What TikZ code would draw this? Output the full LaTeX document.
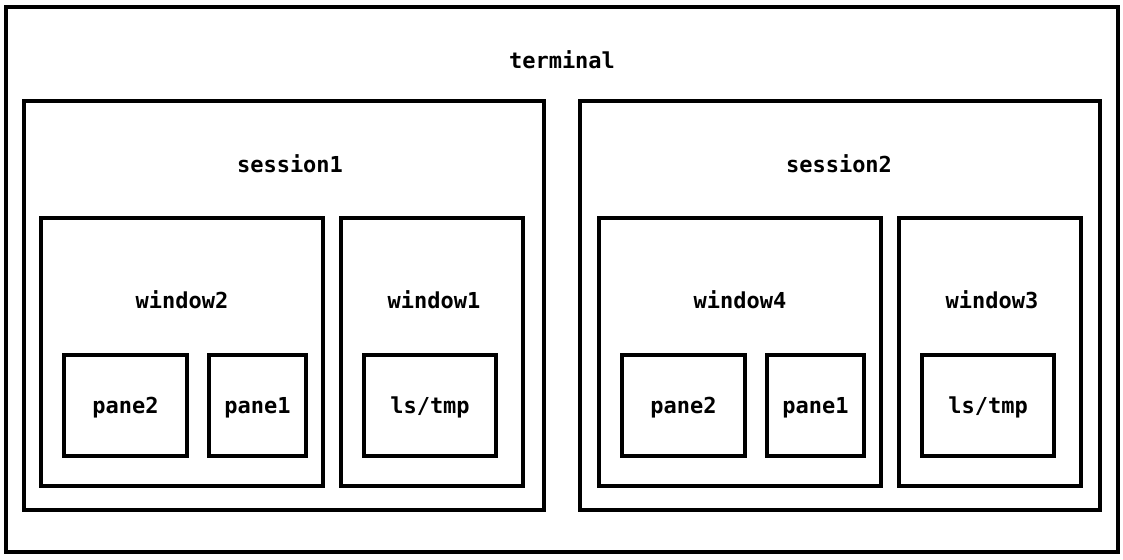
\documentclass[tikz,border=0pt]{standalone}
\usepackage{fontspec}
\setmonofont{DejaVu Sans Mono}
\usepackage{tikz}

\begin{document}
\begin{tikzpicture}
        [x=0.5pt,y=-0.5pt,
         box/.style={rectangle,draw=black,line width=2pt,inner sep=0pt},
         txt/.style={font=\ttfamily\bfseries\fontsize{11}{13}\selectfont},
         panebox/.style={box,txt,text depth=0pt,minimum height=50.5pt}]
        \useasboundingbox (0,0) rectangle (1123,559);

        % outer frame
        \node [box,name=term,minimum width=556pt,minimum height=272.5pt] at (562,279.5) {};
        \node [txt,name=termlbl] at (562,60) {terminal};

        % sessions
        \node [box,name=s1,minimum width=260pt,minimum height=204.5pt] at (284,305.5) {};
        \node [txt,name=s1lbl] at (290,164) {session1};
        \node [box,name=s2,minimum width=260pt,minimum height=204.5pt] at (840,305.5) {};
        \node [txt,name=s2lbl] at (839,164) {session2};

        % windows
        \node [box,name=w2,minimum width=141pt,minimum height=134pt] at (182,352) {};
        \node [txt,name=w2lbl] at (182,300) {window2};
        \node [box,name=w1,minimum width=91pt,minimum height=134pt] at (432,352) {};
        \node [txt,name=w1lbl] at (434,300) {window1};
        \node [box,name=w4,minimum width=141pt,minimum height=134pt] at (740,352) {};
        \node [txt,name=w4lbl] at (740,300) {window4};
        \node [box,name=w3,minimum width=91pt,minimum height=134pt] at (990,352) {};
        \node [txt,name=w3lbl] at (992,300) {window3};

        % panes
        \node [panebox,name=p2a,minimum width=61.5pt] at (125.5,405.5) {pane2};
        \node [panebox,name=p1a,minimum width=48.5pt] at (257.5,405.5) {pane1};
        \node [panebox,name=lsa,minimum width=66pt] at (430,405.5) {ls/tmp};
        \node [panebox,name=p2b,minimum width=61.5pt] at (683.5,405.5) {pane2};
        \node [panebox,name=p1b,minimum width=48.5pt] at (815.5,405.5) {pane1};
        \node [panebox,name=lsb,minimum width=66pt] at (988,405.5) {ls/tmp};
\end{tikzpicture}
\end{document}
